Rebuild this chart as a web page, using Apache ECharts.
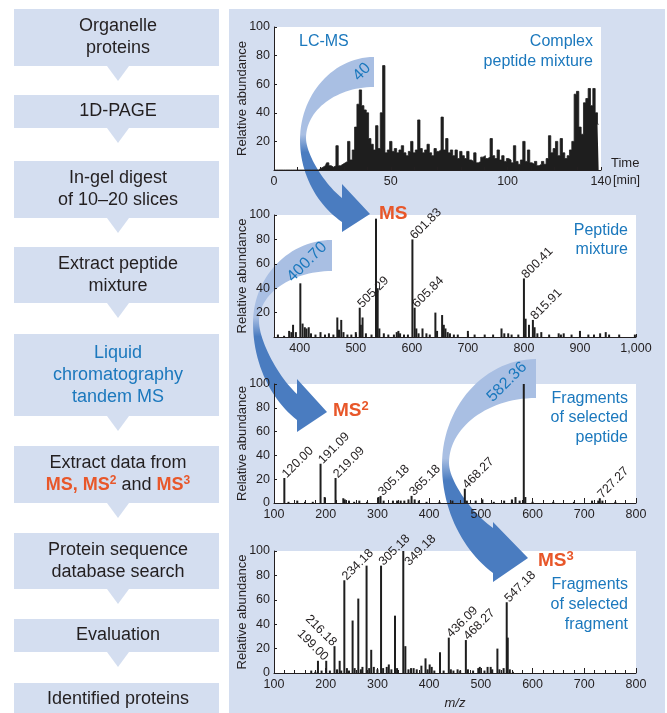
<!DOCTYPE html>
<html><head><meta charset="utf-8">
<script src="https://cdn.jsdelivr.net/npm/echarts@6/dist/echarts.min.js"></script>
<style>html,body{margin:0;padding:0;background:#fff}#c{width:667px;height:713px}</style>
</head><body><div id="c"></div>
<script>
// ---------- DATA ----------
const flowSteps = ['Organelle\nproteins','1D-PAGE','In-gel digest\nof 10\u201320 slices','Extract peptide\nmixture',
  'Liquid\nchromatography\ntandem MS','EXTRACT','Protein sequence\ndatabase search','Evaluation','Identified proteins'];

// LC-MS chromatogram, relative abundance per minute (0..139 min)
const lcAbundance = [0,0,0,0,0,0,0,0,0,0, 0,0,0,0,0,0,0,0,0,0,
  1,2,3,5,3,2,3,17,3,4, 5,6,20,7,14,30,46,56,45,42,
  40,22,18,14,31,15,40,73,12,14, 20,13,15,12,14,17,12,10,13,20,
  12,14,35,15,12,14,18,12,10,15, 13,14,37,14,22,12,14,10,14,8,
  13,10,8,13,7,6,12,5,6,9, 10,8,9,22,10,8,14,7,10,6,
  8,7,5,17,6,4,7,20,6,14, 5,4,6,3,4,6,4,8,24,12,
  15,20,10,22,12,8,10,14,20,53, 55,30,25,47,50,57,45,57,40,32];
const lcTickLabels = [0, 50, 100, 140];

// MS spectrum (peptide mixture)
const msMz = [361,372,381,385,388,393,401,405,409,412,416,420,428,437,445,452,460,467,470,474,478,485,492,500,507,509,512,518,528,
  536,539,542,550,558,568,573,576,579,586,593,601,605,608,612,619,626,632,642,645,654,657,660,664,668,675,682,700,712,730,745,
  760,765,772,778,790,800,803,809,816,819,824,831,845,862,866,871,885,900,915,925,936,946,952,970,998];
const msAbund = [2,1,5,4,10,4,44,11,8,7,8,3,2,4,2,3,2,16,6,14,4,2,2,4,24,10,16,3,2,
  97,40,7,3,2,2,4,5,3,2,2,80,24,7,3,7,3,2,20,5,18,10,7,4,3,2,2,5,2,2,2,
  7,3,3,2,2,48,15,10,14,8,3,4,2,3,2,3,2,5,2,2,3,4,2,2,2];
const msLabelMz = [507, 601, 605, 800, 816];
const msLabelText = ['505.29', '601.83', '605.84', '800.41', '815.91'];
const msTickLabels = [400, 500, 600, 700, 800, 900, 1000];

// MS2 spectrum (fragments of selected peptide)
const ms2Mz = [120,128,145,160,175,190,198,219,234,237,245,255,265,280,302,306,312,330,338,345,352,360,366,372,380,395,420,445,
  469,473,490,503,525,545,560,567,575,583,586,600,640,680,715,727,730,735,760];
const ms2Abund = [21,1,2,1,1,33,5,21,4,3,2,1,2,1,5,6,2,2,2,2,2,3,6,3,2,1,1,2,
  12,2,2,3,1,2,3,5,2,100,5,1,1,1,2,2,4,2,1];
const ms2LabelMz = [120, 190, 219, 306, 366, 469, 730];
const ms2LabelText = ['120.00', '191.09', '219.09', '305.18', '365.18', '468.27', '727.27'];

// MS3 spectrum (fragments of selected fragment)
const ms3Mz = [172,180,185,192,201,208,217,222,227,230,236,241,245,252,256,263,268,271,279,284,288,293,300,307,311,318,322,327,
  334,338,350,354,360,365,370,376,385,393,397,401,405,410,421,428,438,442,447,455,460,471,475,485,495,498,507,513,519,522,
  532,536,544,550,552,556,562];
const ms3Abund = [2,1,10,2,10,2,22,3,10,2,76,4,2,43,4,61,3,5,88,4,19,5,3,88,4,5,7,3,
  47,4,100,22,3,4,4,3,6,12,3,7,5,2,17,2,29,3,2,3,2,27,3,2,4,5,2,5,5,3,
  20,3,4,58,29,3,1];
const ms3LabelMz = [201, 217, 236, 307, 350, 438, 471, 550];
const ms3LabelText = ['199.00', '216.18', '234.18', '305.18', '349.18', '436.09', '468.27', '547.18'];
const ms2TickLabels = [100, 200, 300, 400, 500, 600, 700, 800];

// ---------- STYLE ----------
const FONT = '"Liberation Sans", Arial, Helvetica, sans-serif';
const INK = '#231f20';
const BAR = '#1e1e1e';
const BLUE = '#1b78bd';
const ORANGE = '#e8572a';
const BOXBG = '#d4def0';
const LIGHT = '#a9bfe3';
const DARK = '#4a7cc0';

const chart = echarts.init(document.getElementById('c'), null, {renderer:'canvas'});

const gridBoxes = [
  {left:274, top:27, width:327, height:143},
  {left:274, top:215, width:362, height:122},
  {left:274, top:384, width:362, height:119},
  {left:274, top:551, width:362, height:122}
].map(g => Object.assign(g, {show:true, backgroundColor:'#ffffff', borderWidth:0, z:0}));

function yAx(i, showZero) {
  return {type:'value', gridIndex:i, min:0, max:100, interval:20, z:3,
    name:'Relative abundance', nameLocation:'middle', nameGap:25, nameMoveOverlap:false,
    nameTextStyle:{fontFamily:FONT, fontSize:13, color:INK},
    axisLine:{show:true, lineStyle:{color:INK, width:1}},
    axisTick:{show:true, inside:true, length:3, lineStyle:{color:INK}},
    splitLine:{show:false},
    axisLabel:{fontFamily:FONT, fontSize:12.5, color:INK, margin:4,
      formatter: v => (v === 0 && !showZero) ? '' : String(v)}
  };
}
const axisText = {fontFamily:FONT, fontSize:12.5, color:INK, margin:5};
function range(a, b, s) { const r = []; for (let v = a; v <= b; v += s) r.push(v); return r; }

const xAxes = [
  {type:'value', gridIndex:0, min:0, max:140, z:3,
    axisLine:{onZero:false, lineStyle:{color:INK}},
    axisTick:{inside:true, length:3, lineStyle:{color:INK}, customValues:range(0,140,10)},
    axisLabel:Object.assign({customValues:lcTickLabels}, axisText),
    splitLine:{show:false}},
  {type:'value', gridIndex:1, min:354, max:1000, z:3,
    axisLine:{onZero:false, lineStyle:{color:INK}},
    axisTick:{inside:true, length:3, lineStyle:{color:INK}, customValues:msTickLabels},
    axisLabel:Object.assign({customValues:msTickLabels, formatter: v => v === 1000 ? '1,000' : String(v)}, axisText),
    splitLine:{show:false}},
  {type:'value', gridIndex:2, min:100, max:800, interval:100, z:3,
    axisLine:{onZero:false, lineStyle:{color:INK}},
    axisTick:{inside:true, length:5, lineStyle:{color:INK}},
    minorTick:{show:true, splitNumber:5, length:3, lineStyle:{color:INK}},
    axisLabel:Object.assign({customValues:ms2TickLabels}, axisText),
    splitLine:{show:false}},
  {type:'value', gridIndex:3, min:100, max:800, interval:100, z:3,
    axisLine:{onZero:false, lineStyle:{color:INK}},
    axisTick:{inside:true, length:5, lineStyle:{color:INK}},
    minorTick:{show:true, splitNumber:5, length:3, lineStyle:{color:INK}},
    axisLabel:Object.assign({customValues:ms2TickLabels}, axisText),
    name:'m/z', nameLocation:'middle', nameGap:24, nameMoveOverlap:false,
    nameTextStyle:{fontFamily:FONT, fontSize:13, fontStyle:'italic', color:INK},
    splitLine:{show:false}}
];

const reverseLabels = {'199.00':true, '216.18':true};
const labelOffsets = {'349.18':[-8, 13]};
function spectrum(i, mz, ab, lMz, lText, bw) {
  return {type:'bar', xAxisIndex:i, yAxisIndex:i, barWidth:bw, silent:true, z:2,
    itemStyle:{color:BAR}, label:{show:false},
    data: mz.map((m, k) => {
      const item = {value:[m, ab[k]]};
      const li = lMz.indexOf(m);
      if (li >= 0) {
        const t = lText[li];
        const rev = !!reverseLabels[t];
        item.label = {show:true, formatter:t, position:'top', distance:2,
          rotate: rev ? -45 : 45, align: rev ? 'right' : 'left', verticalAlign:'middle',
          offset: labelOffsets[t] || [0, 0],
          fontFamily:FONT, fontSize:12.5, color:INK};
      }
      return item;
    })
  };
}

const series = [
  {type:'line', xAxisIndex:0, yAxisIndex:0, step:'middle', symbol:'none', silent:true, z:2,
    lineStyle:{color:BAR, width:0.8}, areaStyle:{color:BAR, opacity:1},
    data: lcAbundance.map((v, t) => [t, v])},
  spectrum(1, msMz, msAbund, msLabelMz, msLabelText, 2),
  spectrum(2, ms2Mz, ms2Abund, ms2LabelMz, ms2LabelText, 2),
  spectrum(3, ms3Mz, ms3Abund, ms3LabelMz, ms3LabelText, 2)
];

// ---------- DECORATION ----------
const G = [];
G.push({type:'rect', shape:{x:229, y:9, width:436, height:704}, style:{fill:BOXBG}, z:-10, silent:true});

const boxes = [[9,57],[95,33],[161,57],[247,56],[334,82],[446,57],[533,56],[619,33],[683,40]];
boxes.forEach((b, i) => {
  G.push({type:'rect', shape:{x:14, y:b[0], width:205, height:b[1]}, style:{fill:BOXBG}, z:-10, silent:true});
  if (i < boxes.length - 1) {
    const yb = b[0] + b[1];
    G.push({type:'polygon', shape:{points:[[107, yb], [129, yb], [118, yb + 15]]}, style:{fill:BOXBG}, z:-10, silent:true});
  }
  const cy = i === boxes.length - 1 ? 699 : b[0] + b[1] / 2;
  if (flowSteps[i] === 'EXTRACT') {
    G.push({type:'text', x:118, y:cy, z:10, silent:true, style:{
      text:'{n|Extract data from}\n{o|MS, MS}{s|2}{n| and }{o|MS}{s|3}',
      align:'center', verticalAlign:'middle', textAlign:'center', textVerticalAlign:'middle',
      rich:{
        n:{fontFamily:FONT, fontSize:18, fill:INK, color:INK, lineHeight:22, align:'center'},
        o:{fontFamily:FONT, fontSize:18, fontWeight:'bold', fill:ORANGE, color:ORANGE, lineHeight:22, align:'center'},
        s:{fontFamily:FONT, fontSize:12, fontWeight:'bold', fill:ORANGE, color:ORANGE, lineHeight:15, verticalAlign:'top', align:'center'}
      }}});
  } else {
    G.push({type:'text', x:118, y:cy, z:10, silent:true, style:{
      text:flowSteps[i], fill: i === 4 ? BLUE : INK, font:'18px ' + FONT, lineHeight:22,
      align:'center', verticalAlign:'middle', textAlign:'center', textVerticalAlign:'middle'}});
  }
});

function cubic(p0, p1, p2, p3, n) {
  const pts = [];
  for (let k = 1; k <= n; k++) {
    const t = k / n, u = 1 - t;
    pts.push([u*u*u*p0[0] + 3*u*u*t*p1[0] + 3*u*t*t*p2[0] + t*t*t*p3[0],
              u*u*u*p0[1] + 3*u*u*t*p1[1] + 3*u*t*t*p2[1] + t*t*t*p3[1]]);
  }
  return pts;
}
function arrow(a) {
  const A = [a.ax, a.ay], L = [a.lx, a.ly], JB = [a.hx, a.jBot], I = [a.lx + a.pw, a.ly - 2], JT = [a.hx, a.jTop], B = [a.ax, a.ay + a.bw];
  let pts = [A];
  pts = pts.concat(cubic(A, [a.ax - 0.55*(a.ax - a.lx), a.ay], [a.lx, a.ly - 0.55*(a.ly - a.ay)], L, 30));
  pts = pts.concat(cubic(L, [a.lx, a.ly + 0.43*(a.jBot - a.ly)], [a.lx + 0.43*(a.hx - a.lx), a.jBot - 0.2*(a.jBot - a.ly)], JB, 24));
  pts.push([a.hx, a.hBot], [a.tipx, a.tipy], [a.hx, a.hTop], JT);
  pts = pts.concat(cubic(JT, [a.hx - 0.47*(a.hx - I[0]), a.jTop - 0.22*(a.jTop - I[1])], [I[0], I[1] + 0.28*(a.jTop - I[1])], I, 24));
  pts = pts.concat(cubic(I, [I[0], I[1] - 0.55*(I[1] - B[1])], [a.ax - 0.55*(a.ax - I[0]), B[1]], B, 30));
  const f = (a.ly - a.ay) / (a.hBot - a.ay);
  G.push({type:'polygon', z:1, silent:true, shape:{points:pts},
    style:{fill:new echarts.graphic.LinearGradient(0, 0, 0, 1, [
      {offset:0, color:LIGHT}, {offset:Math.max(0, f - 0.03), color:LIGHT},
      {offset:Math.min(1, f + 0.07), color:DARK}, {offset:1, color:DARK}])}});
  G.push({type:'text', x:a.tx, y:a.ty, rotation:Math.PI / 4, z:10, silent:true,
    style:{text:a.text, fill:BLUE, font:'16px ' + FONT, align:'center', verticalAlign:'middle', textAlign:'center', textVerticalAlign:'middle'}});
}
arrow({ax:374, ay:57, bw:30, lx:300, ly:140, pw:6, hx:342, hTop:184, hBot:232, tipx:370, tipy:214, jTop:198, jBot:222, text:'40', tx:362, ty:72});
arrow({ax:332, ay:240, bw:31, lx:253, ly:323, pw:6, hx:297, hTop:379, hBot:432, tipx:327, tipy:412, jTop:394, jBot:420, text:'400.70', tx:307, ty:262});
arrow({ax:536, ay:359, bw:39, lx:442, ly:465, pw:7, hx:493, hTop:522, hBot:582, tipx:528, tipy:558, jTop:528, jBot:573, text:'582.36', tx:507, ty:382});

function txt(x, y, text, color, font, align, lh) {
  G.push({type:'text', x:x, y:y, z:10, silent:true, style:{text:text, fill:color, font:font, lineHeight:lh || 20,
    align:align, verticalAlign:'middle', textAlign:align, textVerticalAlign:'middle'}});
}
const blueFont = '16px ' + FONT;
txt(299, 42, 'LC-MS', BLUE, blueFont, 'left');
txt(593, 52, 'Complex\npeptide mixture', BLUE, blueFont, 'right');
txt(628, 240, 'Peptide\nmixture', BLUE, blueFont, 'right', 19.5);
txt(628, 418, 'Fragments\nof selected\npeptide', BLUE, blueFont, 'right', 19.5);
txt(628, 605, 'Fragments\nof selected\nfragment', BLUE, blueFont, 'right', 20);
txt(611, 163, 'Time', INK, '13px ' + FONT, 'left');
txt(613, 181, '[min]', INK, '12.5px ' + FONT, 'left');

function msLabel(x, y, sup) {
  G.push({type:'text', x:x, y:y, z:10, silent:true, style:{
    text: sup ? '{m|MS}{s|' + sup + '}' : '{m|MS}', align:'left', verticalAlign:'middle', textAlign:'left', textVerticalAlign:'middle',
    rich:{m:{fontFamily:FONT, fontSize:19, fontWeight:'bold', fill:ORANGE, color:ORANGE, lineHeight:22},
          s:{fontFamily:FONT, fontSize:13, fontWeight:'bold', fill:ORANGE, color:ORANGE, lineHeight:16, verticalAlign:'top'}}}});
}
msLabel(379, 214, null);
msLabel(333, 411, '2');
msLabel(538, 561, '3');

chart.setOption({
  animation:false,
  backgroundColor:'#ffffff',
  textStyle:{fontFamily:FONT},
  grid:gridBoxes,
  xAxis:xAxes,
  yAxis:[yAx(0, false), yAx(1, false), yAx(2, true), yAx(3, true)],
  series:series,
  graphic:{elements:G}
});
</script></body></html>
